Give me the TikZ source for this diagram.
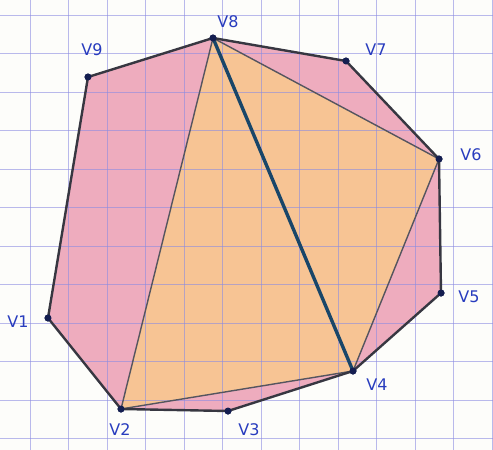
\documentclass[tikz,border=0pt]{standalone}
\usepackage{fontspec}
\setmainfont{DejaVu Sans}
\definecolor{paperc}{RGB}{253,253,250}
\definecolor{gridc}{RGB}{140,140,225}
\definecolor{pinkf}{RGB}{238,172,190}
\definecolor{orangef}{RGB}{247,196,148}
\definecolor{edgec}{RGB}{55,55,65}
\definecolor{diagc}{RGB}{85,85,95}
\definecolor{bluec}{RGB}{25,70,105}
\definecolor{labelc}{RGB}{40,60,190}
\definecolor{dotc}{RGB}{20,30,80}
\tikzset{
  vdot/.style={circle,fill=dotc,inner sep=0pt,minimum size=7pt},
  vlabel/.style={text=labelc,font=\fontsize{16}{16}\selectfont,inner sep=0pt},
  edgeline/.style={draw=edgec,line width=2.4pt,line join=round,line cap=round},
  diagline/.style={draw=diagc,line width=1.4pt,line cap=round},
  mainline/.style={draw=bluec,line width=3.4pt,line cap=round},
  gridline/.style={draw=gridc,line width=0.9pt,opacity=0.6}
}
\begin{document}
\begin{tikzpicture}[x=1pt,y=-1pt]
\useasboundingbox (0,0) rectangle (493,450);
\fill[paperc] (0,0) rectangle (493,450);
% vertices
\node[vdot] (v1) at (48,318) {};
\node[vdot] (v2) at (121,409) {};
\node[vdot] (v3) at (228,411) {};
\node[vdot] (v4) at (353,371) {};
\node[vdot] (v5) at (441,293) {};
\node[vdot] (v6) at (439,159) {};
\node[vdot] (v7) at (346,61) {};
\node[vdot] (v8) at (213,38) {};
\node[vdot] (v9) at (88,77) {};
% fills
\fill[pinkf] (v1.center) -- (v2.center) -- (v3.center) -- (v4.center) -- (v5.center) -- (v6.center) -- (v7.center) -- (v8.center) -- (v9.center) -- cycle;
\fill[orangef] (v2.center) -- (v8.center) -- (v6.center) -- (v4.center) -- cycle;
% grid
\foreach \k in {0,...,12} {
  \draw[gridline] (30+38.5*\k,0) -- (30+38.5*\k,450);
}
\foreach \k in {0,...,11} {
  \draw[gridline] (0,15+38.5*\k) -- (493,15+38.5*\k);
}
% diagonals
\draw[diagline] (v2.center) -- (v8.center);
\draw[diagline] (v8.center) -- (v6.center);
\draw[diagline] (v6.center) -- (v4.center);
\draw[diagline] (v2.center) -- (v4.center);
\draw[mainline] (v8.center) -- (v4.center);
% polygon edges
\draw[edgeline] (v1.center) -- (v2.center) -- (v3.center) -- (v4.center) -- (v5.center) -- (v6.center) -- (v7.center) -- (v8.center) -- (v9.center) -- cycle;
% dots on top
\foreach \v in {v1,v2,v3,v4,v5,v6,v7,v8,v9} {
  \fill[dotc] (\v) circle (3.5pt);
}
% labels
\node[vlabel] (l1) at (18,322) {V1};
\node[vlabel] (l2) at (120,430) {V2};
\node[vlabel] (l3) at (249,430) {V3};
\node[vlabel] (l4) at (377,385) {V4};
\node[vlabel] (l5) at (469,297) {V5};
\node[vlabel] (l6) at (471,155) {V6};
\node[vlabel] (l7) at (376,50) {V7};
\node[vlabel] (l8) at (228,22) {V8};
\node[vlabel] (l9) at (92,50) {V9};
\end{tikzpicture}
\end{document}
